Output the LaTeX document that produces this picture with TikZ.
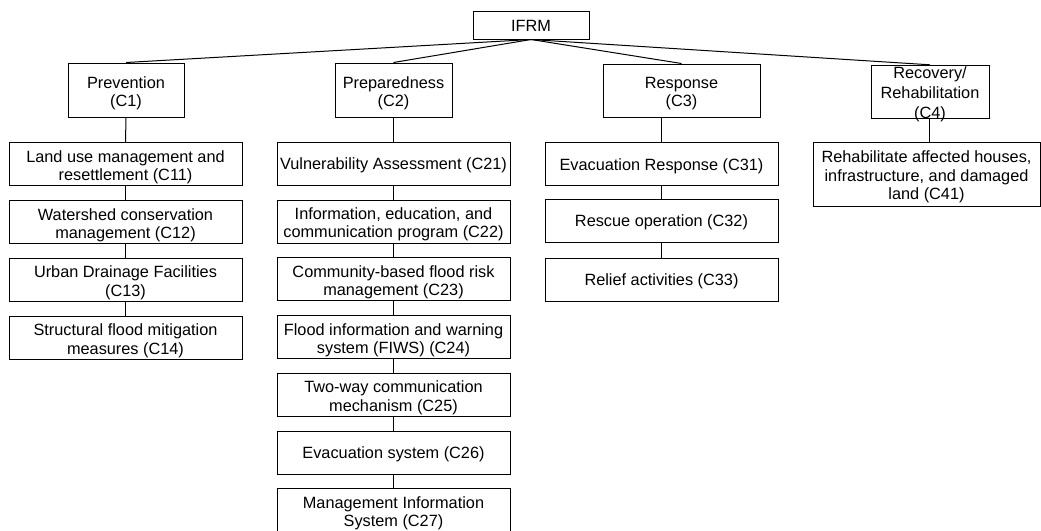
\documentclass[tikz,border=0pt]{standalone}
\usepackage{fontspec}
\setmainfont{Liberation Sans}
\newcommand\mkbox[6]{%
  \node[box, minimum width=#3, minimum height=#4] (#1) at #2 {};
  \node[lbl] (#1-t) at ([yshift=-#5]#1.center) {#6};}
\begin{document}
\begin{tikzpicture}[x=1pt,y=-1pt,
  every node/.style={font=\fontsize{16.3}{18.3}\selectfont},
  box/.style={draw, line width=1pt, rectangle, inner sep=0pt},
  lbl/.style={inner sep=0pt, align=center},
  conn/.style={line width=1pt}]
\useasboundingbox (0,0) rectangle (1041,530);
% top
\mkbox{ifrm}{(531,25)}{116}{28}{1pt}{IFRM}
% level 1
\mkbox{prev}{(126,90)}{116}{54}{3pt}{Prevention\\(C1)}
\mkbox{prep}{(393.5,90)}{117}{54}{3pt}{Preparedness\\(C2)}
\mkbox{resp}{(681.5,90.5)}{157}{53}{3pt}{Response\\(C3)}
\node[box, minimum width=118, minimum height=53] (rec) at (930,91.8) {};
\node[lbl, font=\fontsize{16.3}{20.3}\selectfont] (rec-t) at ([yshift=-2.6pt]rec.center) {Recovery/\\Rehabilitation\\(C4)};
% column 1
\mkbox{c11}{(125.5,164.4)}{233}{43}{3pt}{Land use management and\\resettlement (C11)}
\mkbox{c12}{(125.5,222.1)}{233}{43}{3pt}{Watershed conservation\\management (C12)}
\mkbox{c13}{(125.5,279.9)}{233}{43}{3pt}{Urban Drainage Facilities\\(C13)}
\mkbox{c14}{(125.5,337.7)}{233}{43}{3pt}{Structural flood mitigation\\measures (C14)}
% column 2
\mkbox{c21}{(393.5,163.8)}{233}{43}{1.4pt}{Vulnerability Assessment (C21)}
\mkbox{c22}{(393.5,221.5)}{233}{43}{3pt}{Information, education, and\\communication program (C22)}
\mkbox{c23}{(393.5,279.3)}{233}{43}{3pt}{Community-based flood risk\\management (C23)}
\mkbox{c24}{(393.5,337.1)}{233}{43}{3pt}{Flood information and warning\\system (FIWS) (C24)}
\mkbox{c25}{(393.5,394.8)}{233}{43}{3pt}{Two-way communication\\mechanism (C25)}
\mkbox{c26}{(393.5,452.6)}{233}{43}{1.4pt}{Evacuation system (C26)}
\mkbox{c27}{(393.5,510.3)}{233}{43}{3pt}{Management Information\\System (C27)}
% column 3
\mkbox{c31}{(661.5,164.4)}{233}{43}{1.4pt}{Evacuation Response (C31)}
\mkbox{c32}{(661.5,221.3)}{233}{43}{1.4pt}{Rescue operation (C32)}
\mkbox{c33}{(661.5,279.9)}{233}{43}{1.4pt}{Relief activities (C33)}
% column 4
\mkbox{c41}{(926.5,174.5)}{227}{64.5}{2.3pt}{Rehabilitate affected houses,\\infrastructure, and damaged\\land (C41)}
% connectors from top
\draw[conn] (ifrm.south) -- (prev.north);
\draw[conn] (ifrm.south) -- (prep.north);
\draw[conn] (ifrm.south) -- (resp.north);
\draw[conn] (ifrm.south) -- (rec.north);
% column connectors
\draw[conn] (prev.south) -- (c11.north);
\draw[conn] (c11.south) -- (c12.north);
\draw[conn] (c12.south) -- (c13.north);
\draw[conn] (c13.south) -- (c14.north);
\draw[conn] (prep.south) -- (c21.north);
\draw[conn] (c21.south) -- (c22.north);
\draw[conn] (c22.south) -- (c23.north);
\draw[conn] (c23.south) -- (c24.north);
\draw[conn] (c24.south) -- (c25.north);
\draw[conn] (c25.south) -- (c26.north);
\draw[conn] (c26.south) -- (c27.north);
\draw[conn] (c31.north) -- (c31.north |- resp.south);
\draw[conn] (c31.south) -- (c32.north);
\draw[conn] (c32.south) -- (c33.north);
\draw[conn] ([xshift=-1pt]rec.south) -- ([xshift=-1pt]rec.south |- c41.north);
\end{tikzpicture}
\end{document}
